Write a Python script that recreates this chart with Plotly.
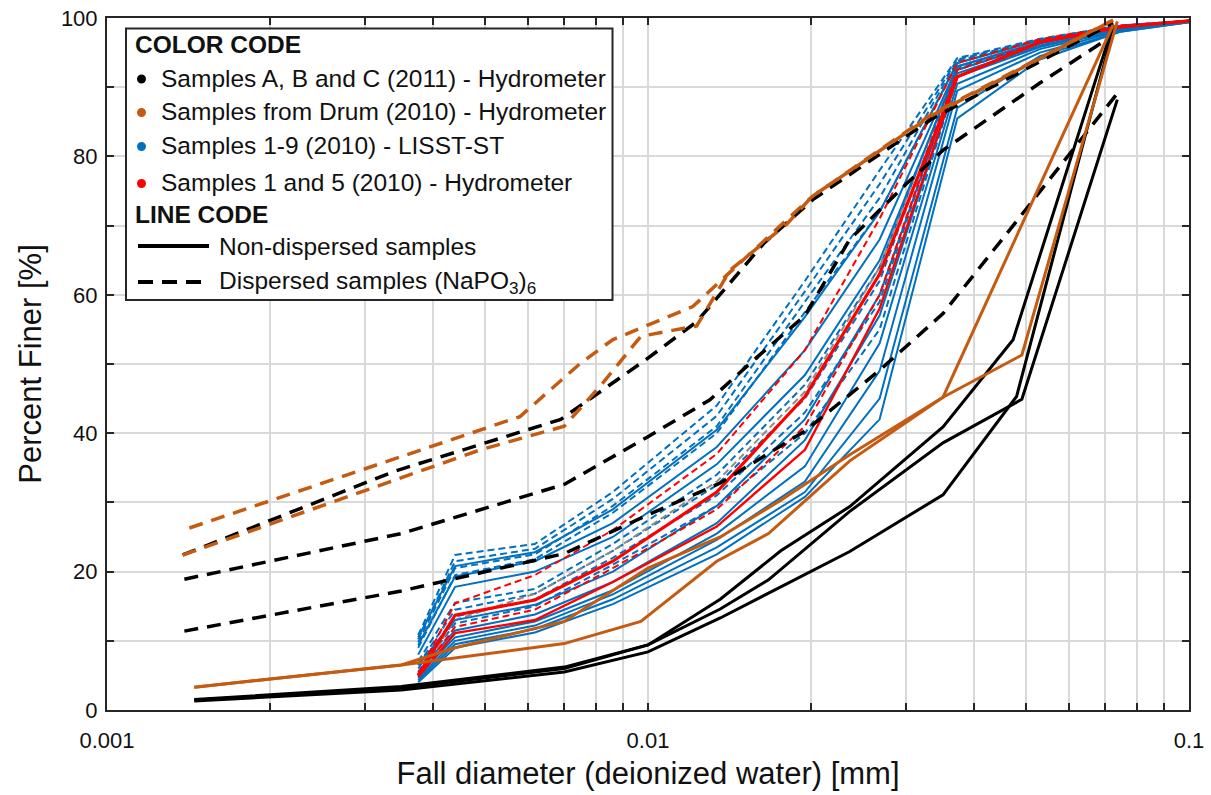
import plotly.graph_objects as go

# ---------------- DATA ----------------
# Hydrometer: samples A, B, C (2011) - black
black_solid_d = [
    [0.00145, 0.0035, 0.0070, 0.0100, 0.0136, 0.0176, 0.0236, 0.0351, 0.0473, 0.0724],
    [0.00145, 0.0035, 0.0070, 0.0100, 0.0136, 0.0167, 0.0236, 0.0351, 0.0491, 0.0737],
    [0.00145, 0.0035, 0.0070, 0.0100, 0.0136, 0.0167, 0.0236, 0.0351, 0.0480, 0.0724],
]
black_solid_v = [
    [1.5, 3.4, 6.2, 9.4, 16.0, 23.0, 29.4, 40.9, 53.5, 99.0],
    [1.4, 3.2, 6.0, 9.4, 14.6, 18.8, 28.7, 38.6, 44.9, 88.2],
    [1.3, 2.9, 5.5, 8.4, 13.3, 16.9, 22.9, 31.1, 45.3, 98.3],
]
black_dash_d = [
    [0.00138, 0.0034, 0.0069, 0.0099, 0.0123, 0.0164, 0.0202, 0.0336, 0.0724],
    [0.00139, 0.0035, 0.0070, 0.0100, 0.0130, 0.0157, 0.0195, 0.0236, 0.0300, 0.0351, 0.0530, 0.0724],
    [0.00139, 0.0035, 0.0070, 0.0100, 0.0136, 0.0195, 0.0268, 0.0351, 0.0473, 0.0737],
]
black_dash_v = [
    [22.4, 34.5, 42.0, 50.6, 56.1, 67.5, 73.8, 85.5, 99.3],
    [18.9, 25.5, 32.6, 39.5, 44.8, 50.6, 57.0, 68.0, 76.0, 80.9, 90.6, 97.5],
    [11.4, 17.2, 22.6, 28.2, 32.8, 40.3, 49.1, 57.3, 70.0, 89.1],
]
# Hydrometer: samples from drum (2010) - orange
orange_solid_d = [
    [0.00145, 0.0035, 0.0070, 0.0097, 0.0134, 0.0167, 0.0236, 0.0351, 0.0724],
    [0.00145, 0.0035, 0.0044, 0.0070, 0.0100, 0.0136, 0.0176, 0.0236, 0.0351, 0.0491, 0.0737],
]
orange_solid_v = [
    [3.3, 6.5, 9.6, 12.8, 21.5, 25.5, 36.0, 45.2, 99.0],
    [3.3, 6.5, 9.0, 12.8, 20.5, 25.0, 30.3, 36.9, 45.2, 51.3, 99.5],
]
orange_dash_d = [
    [0.00142, 0.0032, 0.0058, 0.0075, 0.0086, 0.0121, 0.0157, 0.0201, 0.0336, 0.0724],
    [0.00138, 0.0049, 0.0070, 0.0082, 0.0097, 0.0123, 0.0142, 0.0181, 0.0201, 0.0336, 0.0724],
]
orange_dash_v = [
    [26.3, 35.6, 42.4, 50.1, 53.5, 58.3, 66.5, 74.2, 86.2, 99.7],
    [22.4, 37.6, 41.0, 47.0, 54.0, 55.5, 63.6, 70.3, 74.2, 86.0, 99.7],
]
# LISST-ST size classes (mm) used for samples 1-9 and hydrometer samples 1 and 5
lisst_d = [0.00376, 0.00440, 0.00618, 0.00861, 0.0134, 0.0195, 0.0268, 0.0373, 0.0530, 0.0746, 0.1]
blue_solid_v = [
    [10.5, 20.8, 22.8, 29.0, 40.5, 56.8, 72.0, 93.5, 96.8, 98.8, 99.6],
    [9.4, 19.3, 21.5, 27.0, 38.0, 52.0, 68.0, 93.0, 96.5, 98.7, 99.6],
    [8.0, 17.8, 20.0, 25.0, 35.5, 48.4, 65.0, 92.5, 96.3, 98.6, 99.5],
    [6.5, 13.0, 15.2, 20.0, 29.5, 42.0, 60.0, 92.0, 96.0, 98.5, 99.5],
    [5.5, 11.5, 13.8, 18.5, 27.0, 39.0, 57.0, 91.5, 95.8, 98.4, 99.5],
    [5.0, 10.5, 12.8, 17.3, 25.5, 35.2, 53.0, 90.5, 95.5, 98.3, 99.5],
    [4.6, 10.0, 12.2, 16.7, 24.6, 33.0, 49.0, 89.5, 95.0, 98.2, 99.4],
    [4.3, 9.5, 11.7, 16.0, 23.5, 31.5, 45.0, 87.0, 94.5, 98.0, 99.4],
    [4.0, 9.0, 11.2, 15.3, 22.5, 30.8, 42.0, 85.5, 94.0, 98.0, 99.4],
]
blue_dash_v = [
    [10.8, 22.4, 24.0, 31.5, 44.0, 62.0, 78.0, 94.2, 97.0, 98.9, 99.6],
    [10.2, 21.5, 23.3, 30.5, 42.5, 60.5, 76.0, 94.0, 96.9, 98.9, 99.6],
    [9.8, 20.5, 22.5, 29.5, 41.0, 59.0, 74.0, 93.8, 96.8, 98.8, 99.6],
    [9.0, 19.5, 21.8, 28.5, 40.0, 57.5, 72.0, 93.5, 96.8, 98.8, 99.6],
    [7.0, 15.5, 17.5, 24.0, 34.0, 47.0, 64.0, 93.0, 96.5, 98.7, 99.6],
    [6.5, 14.5, 16.8, 23.0, 32.5, 45.0, 62.0, 92.8, 96.4, 98.7, 99.5],
    [6.0, 13.5, 16.0, 22.0, 31.0, 43.0, 59.0, 92.5, 96.3, 98.6, 99.5],
    [5.5, 12.5, 15.0, 21.0, 29.5, 40.0, 55.0, 91.5, 96.0, 98.5, 99.5],
]
gray_dash_v = [5.0, 13.0, 16.8, 23.0, 33.0, 46.0, 64.0, 93.0, 96.6, 98.7, 99.6]
red_solid_v = [
    [5.0, 13.7, 15.9, 21.5, 31.5, 45.3, 63.0, 91.5, 96.5, 98.7, 99.6],
    [4.8, 11.1, 13.0, 18.5, 26.5, 37.6, 58.0, 91.5, 96.5, 98.7, 99.6],
]
red_dash_v = [
    [5.2, 15.4, 19.5, 26.0, 37.0, 52.0, 71.0, 93.5, 96.9, 98.9, 99.6],
    [4.9, 12.0, 14.5, 20.5, 29.0, 41.0, 60.0, 92.5, 96.5, 98.7, 99.6],
]

x_tick_vals = [0.001, 0.01, 0.1]
x_tick_text = ["0.001", "0.01", "0.1"]
x_minor_vals = [m * 10 ** e for e in (-3, -2) for m in range(2, 10)]

legend_color_labels = [
    "Samples A, B and C (2011) - Hydrometer",
    "Samples from Drum (2010) - Hydrometer",
    "Samples 1-9 (2010) - LISST-ST",
    "Samples 1 and 5 (2010) - Hydrometer",
]
legend_line_labels = ["Non-dispersed samples", "Dispersed samples (NaPO<sub>3</sub>)<sub>6</sub>"]

# ---------------- STYLE ----------------
BLACK = "#000000"
ORANGE = "#C55A11"
BLUE = "#0070C0"
RED = "#FF0000"
GRAY = "#8C8C8C"
FONT = "Liberation Sans, Arial, sans-serif"

W, H = 1211, 795
ML, MR, MT, MB = 107, 22, 18, 85

fig = go.Figure()


def add(xs, ys, color, width, dash="solid"):
    fig.add_trace(go.Scatter(x=xs, y=ys, mode="lines",
                             line=dict(color=color, width=width, dash=dash),
                             showlegend=False, hoverinfo="skip"))


for v in blue_dash_v:
    add(lisst_d, v, BLUE, 2, "7px,4px")
add(lisst_d, gray_dash_v, GRAY, 2, "7px,4px")
for v in blue_solid_v:
    add(lisst_d, v, BLUE, 2)
for v in red_dash_v:
    add(lisst_d, v, RED, 2, "7px,4px")
for i, v in enumerate(red_solid_v):
    add(lisst_d, v, RED, 3.2 if i == 0 else 2.4)
for d, v in zip(black_solid_d, black_solid_v):
    add(d, v, BLACK, 3)
for d, v in zip(black_dash_d, black_dash_v):
    add(d, v, BLACK, 3.5, "14px,9px")
for d, v in zip(orange_solid_d, orange_solid_v):
    add(d, v, ORANGE, 3)
for d, v in zip(orange_dash_d, orange_dash_v):
    add(d, v, ORANGE, 3.5, "14px,9px")

# ---------------- LEGEND (drawn box) ----------------
pw, ph = W - ML - MR, H - MT - MB


def px(xp):
    return (xp - ML) / pw


def py(yp):
    return (H - MB - yp) / ph


LEG_FS = 24.5
shapes = [dict(type="rect", xref="paper", yref="paper", x0=px(126), x1=px(612.5),
               y0=py(300), y1=py(28.5), line=dict(color="#262626", width=2),
               fillcolor="white", layer="above")]
annotations = []
annotations.append(dict(text="<b>COLOR CODE</b>", xref="paper", yref="paper", x=px(133), y=py(45),
                        xanchor="left", yanchor="middle", showarrow=False,
                        font=dict(family=FONT, size=LEG_FS, color="#111111")))
row_y = [78, 111.5, 145.5, 182.5]
for lab, col, yy in zip(legend_color_labels, [BLACK, ORANGE, BLUE, RED], row_y):
    shapes.append(dict(type="circle", xref="paper", yref="paper", xsizemode="pixel", ysizemode="pixel",
                       xanchor=px(141.5), yanchor=py(yy + 1), x0=-4.5, x1=4.5, y0=-4.5, y1=4.5,
                       fillcolor=col, line=dict(color=col, width=0), layer="above"))
    annotations.append(dict(text=lab, xref="paper", yref="paper", x=px(159), y=py(yy),
                            xanchor="left", yanchor="middle", showarrow=False,
                            font=dict(family=FONT, size=LEG_FS, color="#111111")))
annotations.append(dict(text="<b>LINE CODE</b>", xref="paper", yref="paper", x=px(133), y=py(214),
                        xanchor="left", yanchor="middle", showarrow=False,
                        font=dict(family=FONT, size=LEG_FS, color="#111111")))
for lab, dash, yy in zip(legend_line_labels, ["solid", "15px,9px"], [246, 282]):
    shapes.append(dict(type="line", xref="paper", yref="paper", x0=px(138), x1=px(209),
                       y0=py(yy), y1=py(yy), line=dict(color=BLACK, width=4, dash=dash), layer="above"))
    annotations.append(dict(text=lab, xref="paper", yref="paper", x=px(217), y=py(yy),
                            xanchor="left", yanchor="middle", showarrow=False,
                            font=dict(family=FONT, size=LEG_FS, color="#111111")))

GRID = "#D9D9D9"
AX = "#262626"
fig.update_layout(
    width=W, height=H,
    margin=dict(l=ML, r=MR, t=MT, b=MB, autoexpand=False),
    plot_bgcolor="white", paper_bgcolor="white",
    font=dict(family=FONT, color="#111111"),
    shapes=shapes, annotations=annotations,
    xaxis=dict(type="log", range=[-3, -1], tickmode="array", tickvals=x_tick_vals, ticktext=x_tick_text,
               ticks="inside", ticklen=7, tickwidth=1.5, tickcolor=AX,
               showgrid=True, gridcolor=GRID, gridwidth=2,
               minor=dict(tickmode="array", tickvals=x_minor_vals, ticks="inside", ticklen=7,
                          tickcolor=AX, tickwidth=1.5, showgrid=True, gridcolor=GRID, gridwidth=2),
               showline=True, linecolor=AX, linewidth=2, mirror="allticks",
               tickfont=dict(family=FONT, size=22), ticklabelstandoff=10,
               title=dict(text="Fall diameter (deionized water) [mm]", font=dict(family=FONT, size=31),
                          standoff=10),
               automargin=False, zeroline=False),
    yaxis=dict(range=[0, 100], tickmode="linear", tick0=0, dtick=20,
               ticks="inside", ticklen=7, tickwidth=1.5, tickcolor=AX,
               showgrid=True, gridcolor=GRID, gridwidth=2,
               minor=dict(dtick=10, ticks="inside", ticklen=7, tickcolor=AX, tickwidth=1.5,
                          showgrid=True, gridcolor=GRID, gridwidth=2),
               showline=True, linecolor=AX, linewidth=2, mirror="allticks",
               tickfont=dict(family=FONT, size=22), ticklabelstandoff=3,
               title=dict(text="Percent Finer [%]", font=dict(family=FONT, size=31), standoff=10),
               automargin=False, zeroline=False),
)

fig.write_html("out.html", config={"displayModeBar": False},
               post_script="document.body.style.margin='0';document.body.style.overflow='hidden';")
